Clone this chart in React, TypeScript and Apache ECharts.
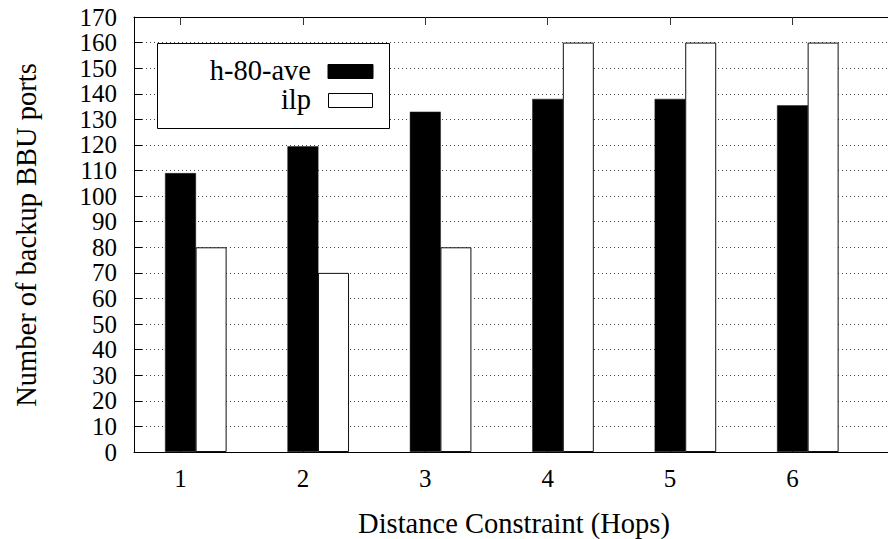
import React, { useEffect, useRef } from "react";
import * as echarts from "echarts";

const hops = [1, 2, 3, 4, 5, 6];
const h80ave = [109, 119.5, 133, 138, 138, 135.5];
const ilp = [80, 70, 80, 160, 160, 160];
const yTicks = { min: 0, max: 170, interval: 10 };
const seriesNames = ["h-80-ave", "ilp"];
const xTitle = "Distance Constraint (Hops)";
const yTitle = "Number of backup BBU ports";

const FONT = "'Liberation Serif', 'Times New Roman', 'DejaVu Serif', serif";
const X_MIN = 0.62;
const X_MAX = 6.78;
const SHIFT = 0.25;

export default function App() {
  const ref = useRef<HTMLDivElement>(null);
  useEffect(() => {
    if (!ref.current) return;
    const chart = echarts.init(ref.current, undefined, { renderer: "svg" });
    const tickStyle = { color: "#000", fontFamily: FONT, fontSize: 25 };
    const txt = (text: string, extra: any) => ({
      text,
      fontFamily: FONT,
      fontSize: 28.5,
      fill: "#000",
      ...extra,
    });
    chart.setOption({
      animation: false,
      backgroundColor: "#fff",
      textStyle: { fontFamily: FONT },
      grid: { left: 134, top: 17, height: 435, right: 0, containLabel: false },
      xAxis: [
        {
          type: "value",
          position: "bottom",
          min: X_MIN,
          max: X_MAX,
          axisLine: { show: true, onZero: false, lineStyle: { color: "#000", width: 1 } },
          axisTick: { show: true, inside: true, length: 8, customValues: hops, lineStyle: { color: "#000" } },
          axisLabel: { show: true, customValues: hops, margin: 14, ...tickStyle },
          splitLine: { show: false },
        },
        {
          type: "value",
          position: "top",
          min: X_MIN,
          max: X_MAX,
          axisLine: { show: true, onZero: false, lineStyle: { color: "#000", width: 1 } },
          axisTick: { show: true, inside: true, length: 8, customValues: hops, lineStyle: { color: "#333" } },
          axisLabel: { show: false },
          splitLine: { show: false },
        },
        {
          type: "value",
          show: false,
          min: X_MIN - SHIFT,
          max: X_MAX - SHIFT,
          splitLine: { show: false },
        },
      ],
      yAxis: {
        type: "value",
        min: yTicks.min,
        max: yTicks.max,
        interval: yTicks.interval,
        axisLine: { show: true, lineStyle: { color: "#000", width: 1 } },
        axisTick: { show: true, inside: true, length: 8, lineStyle: { color: "#000" } },
        axisLabel: { margin: 17, ...tickStyle },
        splitLine: { show: true, lineStyle: { type: [1, 3], color: "#444", width: 1 } },
      },
      series: [
        {
          name: seriesNames[0],
          type: "bar",
          xAxisIndex: 0,
          barWidth: 31,
          data: hops.map((h, i) => [h, h80ave[i]]),
          itemStyle: { color: "#000", borderColor: "#222", borderWidth: 0.5 },
          z: 3,
        },
        {
          name: seriesNames[1],
          type: "bar",
          xAxisIndex: 2,
          barWidth: 31,
          data: hops.map((h, i) => [h, ilp[i]]),
          itemStyle: { color: "#fff", borderColor: "#111", borderWidth: 1 },
          z: 3,
        },
      ],
      graphic: [
        {
          type: "rect",
          z: 100,
          shape: { x: 157.5, y: 43.5, width: 232, height: 85 },
          style: { fill: "#fff", stroke: "#000", lineWidth: 1 },
        },
        {
          type: "text",
          z: 101,
          x: 311,
          y: 70.5,
          style: txt(seriesNames[0], { align: "right", verticalAlign: "middle" }),
        },
        {
          type: "text",
          z: 101,
          x: 311,
          y: 99,
          style: txt(seriesNames[1], { align: "right", verticalAlign: "middle" }),
        },
        {
          type: "rect",
          z: 101,
          shape: { x: 328, y: 64.5, width: 45, height: 14 },
          style: { fill: "#000", stroke: "#000", lineWidth: 1 },
        },
        {
          type: "rect",
          z: 101,
          shape: { x: 328.5, y: 93.5, width: 44, height: 14 },
          style: { fill: "#fff", stroke: "#000", lineWidth: 1 },
        },
        {
          type: "text",
          z: 101,
          x: 514,
          y: 523,
          style: txt(xTitle, { align: "center", verticalAlign: "middle" }),
        },
        {
          type: "text",
          z: 101,
          x: 26,
          y: 235,
          rotation: Math.PI / 2,
          style: txt(yTitle, { align: "center", verticalAlign: "middle" }),
        },
      ],
    });
    return () => chart.dispose();
  }, []);
  return (
    <div
      ref={ref}
      style={{ position: "absolute", left: 0, top: 0, width: 888, height: 539, background: "#fff" }}
    />
  );
}
